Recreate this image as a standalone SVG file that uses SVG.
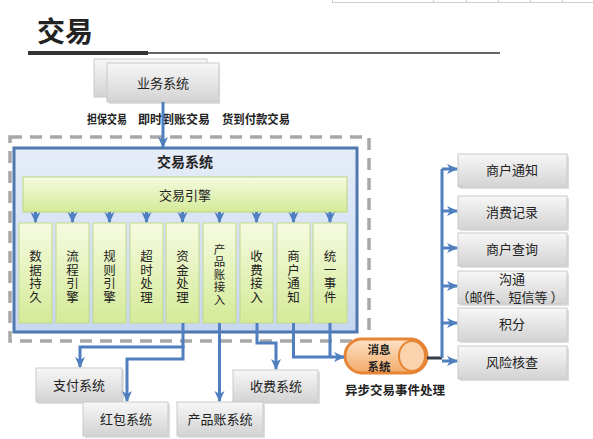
<svg xmlns="http://www.w3.org/2000/svg" width="593" height="439" viewBox="0 0 593 439">
<defs>
<linearGradient id="gGray" x1="0" y1="0" x2="0" y2="1"><stop offset="0" stop-color="#f7f7f7"/><stop offset="1" stop-color="#d3d3d3"/></linearGradient>
<linearGradient id="gBlue" x1="0" y1="0" x2="0" y2="1"><stop offset="0" stop-color="#e6edf8"/><stop offset="1" stop-color="#c6d7ef"/></linearGradient>
<linearGradient id="gGreen" x1="0" y1="0" x2="0" y2="1"><stop offset="0" stop-color="#f6fbe0"/><stop offset="1" stop-color="#d4ea98"/></linearGradient>
<linearGradient id="gOrange" x1="0" y1="0" x2="0" y2="1"><stop offset="0" stop-color="#fde3c8"/><stop offset="1" stop-color="#f3aa68"/></linearGradient>
<marker id="arr" markerUnits="userSpaceOnUse" markerWidth="12" markerHeight="12" viewBox="0 0 12 12" refX="10" refY="6" orient="auto">
<path d="M0,1 L11,6 L0,11 L3,6 Z" fill="#4f7fbf"/>
</marker>
</defs>
<style>
text{font-family:"Noto Sans CJK SC","Liberation Sans",sans-serif;fill:#222}
.box{fill:url(#gGray);stroke:#c9c9c9;stroke-width:1}
.shadow{fill:#bdbdbd;opacity:0.5}
.col{fill:url(#gGreen);stroke:#c2d88a;stroke-width:1}
.lbl{font-size:13px;text-anchor:middle}
.b{font-weight:bold}
.ct{font-size:12.5px;text-anchor:middle;writing-mode:vertical-rl;letter-spacing:1px}
.ct5{font-size:11.5px;text-anchor:middle;writing-mode:vertical-rl;letter-spacing:1px}
.con{fill:none;stroke:#4f7fbf;stroke-width:3}
</style>

<!-- top-right table fragment -->
<g id="table" stroke="#cfcfcf" stroke-width="1">
<line x1="332" y1="2.5" x2="593" y2="2.5"/>
<line x1="332.5" y1="0" x2="332.5" y2="3"/>
<line x1="433.5" y1="0" x2="433.5" y2="3"/>
<line x1="466.5" y1="0" x2="466.5" y2="3"/>
<line x1="498.5" y1="0" x2="498.5" y2="3"/>
<line x1="530.5" y1="0" x2="530.5" y2="3"/>
<line x1="562.5" y1="0" x2="562.5" y2="3"/>
</g>

<!-- title -->
<g id="title">
<text x="37" y="42" font-size="28" class="b" fill="#111">交易</text>
<line x1="28" y1="53" x2="148" y2="53" stroke="#333" stroke-width="4"/>
<line x1="148" y1="53" x2="500" y2="53" stroke="#333" stroke-width="1.5"/>
</g>

<!-- business system -->
<g id="biz">
<rect x="94" y="59" width="113" height="38" class="box"/>
<rect x="109" y="65" width="111" height="39" class="shadow"/>
<rect x="107" y="63" width="112" height="39" class="box"/>
<text x="163" y="88" class="lbl" font-size="14">业务系统</text>
</g>

<g id="bizlabels">
<text x="87" y="124" font-size="12" class="b" textLength="40" lengthAdjust="spacingAndGlyphs">担保交易</text>
<text x="138" y="124" font-size="12" class="b" textLength="72" lengthAdjust="spacingAndGlyphs">即时到账交易</text>
<text x="222" y="124" font-size="12" class="b" textLength="68" lengthAdjust="spacingAndGlyphs">货到付款交易</text>
</g>

<!-- dashed boundary -->
<rect id="boundary" x="10" y="137" width="359" height="204" fill="none" stroke="#a8a8a8" stroke-width="3.5" stroke-dasharray="12 8"/>

<!-- trade system -->
<g id="tradeSystem">
<rect x="14" y="148" width="343" height="184" fill="url(#gBlue)" stroke="#4f78b0" stroke-width="3"/>
<text x="185" y="167" font-size="14" class="b" text-anchor="middle">交易系统</text>
</g>

<g id="engine">
<rect x="23" y="177" width="324" height="35" fill="url(#gGreen)" stroke="#bcd57e" stroke-width="1"/>
<text x="185" y="200" class="lbl" font-size="13.5">交易引擎</text>
</g>

<g id="c1"><rect x="19" y="223" width="33" height="100" class="col"/><text class="ct" x="35.5" y="277">数据持久</text></g>
<g id="c2"><rect x="56" y="223" width="33" height="100" class="col"/><text class="ct" x="72.5" y="277">流程引擎</text></g>
<g id="c3"><rect x="93" y="223" width="33" height="100" class="col"/><text class="ct" x="109.5" y="277">规则引擎</text></g>
<g id="c4"><rect x="130" y="223" width="33" height="100" class="col"/><text class="ct" x="146.5" y="277">超时处理</text></g>
<g id="c5"><rect x="166" y="223" width="33" height="100" class="col"/><text class="ct" x="182.5" y="277">资金处理</text></g>
<g id="c6"><rect x="203" y="223" width="33" height="100" class="col"/><text class="ct5" x="219.5" y="275">产品账接入</text></g>
<g id="c7"><rect x="240" y="223" width="33" height="100" class="col"/><text class="ct" x="256.5" y="277">收费接入</text></g>
<g id="c8"><rect x="277" y="223" width="33" height="100" class="col"/><text class="ct" x="293.5" y="277">商户通知</text></g>
<g id="c9"><rect x="313" y="223" width="34" height="100" class="col"/><text class="ct" x="330" y="277">统一事件</text></g>

<!-- bottom systems -->
<g id="pay"><rect x="38" y="370" width="86" height="34" class="shadow"/><rect x="36" y="368" width="86" height="34" class="box"/><text x="79" y="390" class="lbl">支付系统</text></g>
<g id="fee"><rect x="235" y="372" width="85" height="32" class="shadow"/><rect x="233" y="370" width="85" height="32" class="box"/><text x="276" y="391" class="lbl">收费系统</text></g>
<g id="redpack"><rect x="85" y="404" width="85" height="34" class="shadow"/><rect x="83" y="402" width="85" height="34" class="box"/><text x="126" y="424" class="lbl">红包系统</text></g>
<g id="prodacct"><rect x="179" y="404" width="86" height="34" class="shadow"/><rect x="177" y="402" width="86" height="34" class="box"/><text x="220" y="424" class="lbl">产品账系统</text></g>

<!-- message system -->
<g id="mq">
<rect x="345" y="339" width="82" height="34" rx="17" fill="url(#gOrange)" stroke="#e58535" stroke-width="3"/>
<ellipse cx="412" cy="356" rx="13" ry="15" fill="#fbd3ac" stroke="#e58535" stroke-width="2"/>
<text x="379" y="353.5" font-size="11.5" class="b" text-anchor="middle">消息</text>
<text x="379" y="370.5" font-size="11.5" class="b" text-anchor="middle">系统</text>
</g>
<text id="asyncLabel" x="395" y="395" font-size="12.5" class="b" text-anchor="middle">异步交易事件处理</text>

<!-- right side -->
<g id="r1"><rect x="460" y="156" width="109" height="33" class="shadow"/><rect x="458" y="154" width="109" height="33" class="box"/><text x="512" y="175" class="lbl">商户通知</text></g>
<g id="r2"><rect x="460" y="198" width="109" height="33" class="shadow"/><rect x="458" y="196" width="109" height="33" class="box"/><text x="512" y="217" class="lbl">消费记录</text></g>
<g id="r3"><rect x="460" y="235" width="109" height="33" class="shadow"/><rect x="458" y="233" width="109" height="33" class="box"/><text x="512" y="254" class="lbl">商户查询</text></g>
<g id="r4"><rect x="460" y="273" width="109" height="33" class="shadow"/><rect x="458" y="271" width="109" height="33" class="box"/><text x="512" y="284" class="lbl" font-size="11">沟通</text><text x="510" y="301.5" class="lbl" font-size="11">（邮件、短信等 ）</text></g>
<g id="r5"><rect x="460" y="310" width="109" height="33" class="shadow"/><rect x="458" y="308" width="109" height="33" class="box"/><text x="512" y="329" class="lbl">积分</text></g>
<g id="r6"><rect x="460" y="348" width="109" height="33" class="shadow"/><rect x="458" y="346" width="109" height="33" class="box"/><text x="512" y="367" class="lbl">风险核查</text></g>

<!-- connectors -->
<g id="connectors">
<path class="con" d="M163,102 V147" marker-end="url(#arr)"/>
<path class="con" d="M35.5,212 V222" marker-end="url(#arr)"/>
<path class="con" d="M72.5,212 V222" marker-end="url(#arr)"/>
<path class="con" d="M109.5,212 V222" marker-end="url(#arr)"/>
<path class="con" d="M146.5,212 V222" marker-end="url(#arr)"/>
<path class="con" d="M182.5,212 V222" marker-end="url(#arr)"/>
<path class="con" d="M219.5,212 V222" marker-end="url(#arr)"/>
<path class="con" d="M256.5,212 V222" marker-end="url(#arr)"/>
<path class="con" d="M293.5,212 V222" marker-end="url(#arr)"/>
<path class="con" d="M330,212 V222" marker-end="url(#arr)"/>

<path class="con" d="M183,323 V347 H80 V367" marker-end="url(#arr)"/>
<path class="con" d="M183,345 V359 H127 V401" marker-end="url(#arr)"/>
<path class="con" d="M219.5,323 V401" marker-end="url(#arr)"/>
<path class="con" d="M257,323 V343 H276 V369" marker-end="url(#arr)"/>
<path class="con" d="M293.5,323 V357 H344" marker-end="url(#arr)"/>
<path class="con" d="M330,323 V357"/>

<path d="M427,358 H442" fill="none" stroke="#333d4a" stroke-width="3"/>
<path class="con" d="M442,358 V169"/>
<path class="con" d="M442,169 H457" marker-end="url(#arr)"/>
<path class="con" d="M442,211 H457" marker-end="url(#arr)"/>
<path class="con" d="M442,248 H457" marker-end="url(#arr)"/>
<path class="con" d="M442,286 H457" marker-end="url(#arr)"/>
<path class="con" d="M442,323 H457" marker-end="url(#arr)"/>
<path class="con" d="M442,361 H457" marker-end="url(#arr)"/>
</g>
</svg>
